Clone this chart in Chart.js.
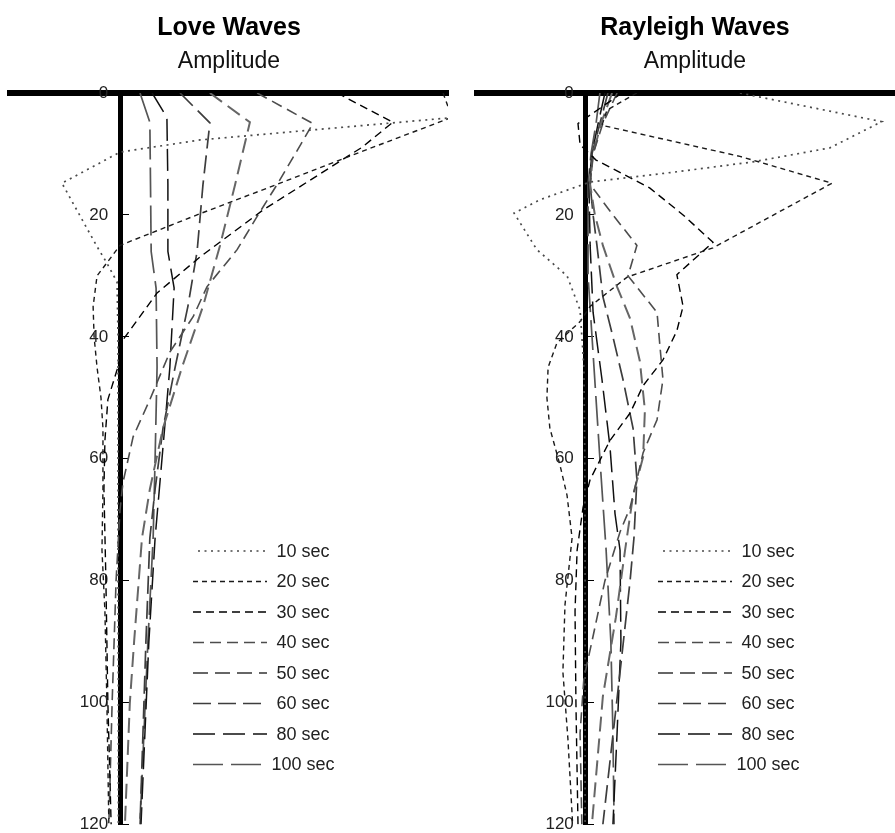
<!DOCTYPE html>
<html><head><meta charset="utf-8">
<script src="https://cdn.jsdelivr.net/npm/chart.js@4.4.1/dist/chart.umd.min.js"></script>
<style>
html,body{margin:0;padding:0;background:#fff;overflow:hidden;width:895px;height:833px;}
#wrap{position:relative;width:895px;height:833px;overflow:hidden;background:#fff;}
canvas{position:absolute;top:0;}
#c1{left:0;}
#c2{left:455px;}
</style></head><body>
<div id="wrap">
<canvas id="c1" width="455" height="833"></canvas>
<canvas id="c2" width="460" height="833"></canvas>
</div>
<script>
// ---------- DATA (amplitude normalised, depth in km) ----------
const periods = ['10 sec','20 sec','30 sec','40 sec','50 sec','60 sec','80 sec','100 sec'];
const depthTicks = [0,20,40,60,80,100,120];

// Love waves
const love10Depth = [0,4.1,6.1,7.7,9.7,14.8,25.2,27.9,31,40,60,80,100,120];
const love10Amp   = [1.2,1.0,0.579,0.244,0,-0.177,-0.07,-0.04,-0.009,-0.006,-0.006,-0.006,-0.005,-0.005];
const love20Depth = [0,4,9.7,14.8,19.8,25,30,35,40,45,50,55,65,75,85,100,120];
const love20Amp   = [0.985,1.012,0.732,0.488,0.244,0,-0.07,-0.082,-0.079,-0.07,-0.058,-0.052,-0.052,-0.055,-0.046,-0.04,-0.034];
const love30Depth = [0,4.8,8.9,19.2,26.9,32.8,40.5,45.4,50.3,57,65,80,100,120];
const love30Amp   = [0.662,0.832,0.738,0.436,0.244,0.113,0.009,-0.009,-0.037,-0.046,-0.049,-0.043,-0.037,-0.027];
const love40Depth = [0,5,10,15,20,25.7,31.8,36.7,42.5,50.3,56.4,63.9,68.4,80,100,120];
const love40Amp   = [0.418,0.588,0.534,0.479,0.421,0.357,0.265,0.223,0.152,0.091,0.04,0.009,0,-0.012,-0.024,-0.034];
const love50Depth = [0,4.8,15,25,35,45,55,65,73,90,100,120];
const love50Amp   = [0.274,0.396,0.351,0.305,0.253,0.189,0.131,0.091,0.067,0.043,0.03,0.015];
const love60Depth = [0,4.9,15,26,35,45,55,65,73,90,120];
const love60Amp   = [0.183,0.274,0.253,0.235,0.207,0.168,0.131,0.107,0.091,0.079,0.061];
const love80Depth = [0,4,15,26,32,45,60,73,90,120];
const love80Amp   = [0.098,0.143,0.146,0.146,0.165,0.152,0.128,0.107,0.088,0.064];
const love100Depth = [0,4.8,15,26,32,45,60,73,90,120];
const love100Amp   = [0.061,0.091,0.093,0.095,0.11,0.113,0.107,0.101,0.085,0.061];

// Rayleigh waves
const ray10Depth = [0,4.7,9,11.3,13,14.6,17.5,19.7,25.7,30,35.6,45,60,80,100,120];
const ray10Amp   = [0.521,1.0,0.825,0.565,0.295,0.015,-0.154,-0.242,-0.165,-0.063,-0.019,-0.006,-0.003,-0.002,-0.002,-0.002];
const ray20Depth = [0,2.8,5.3,10.4,14.8,25.4,30.2,35,37.5,41,45,50,55,61,66,73,84,95,106,120];
const ray20Amp   = [0.173,0.072,0.055,0.521,0.832,0.43,0.14,0.015,-0.019,-0.097,-0.127,-0.131,-0.121,-0.087,-0.063,-0.046,-0.07,-0.077,-0.06,-0.044];
const ray30Depth = [0,5,8.5,11,15.6,20,24.5,29.8,35,39,43.8,48,52.5,57,63.4,68,75,85,100,120];
const ray30Amp   = [0.123,-0.026,-0.019,0.035,0.217,0.329,0.43,0.308,0.329,0.308,0.261,0.194,0.15,0.082,0.015,-0.009,-0.029,-0.036,-0.033,-0.026];
const ray40Depth = [0,5,10,15,20,25,30,36,41.6,47,53.6,59,63.4,68,72,80,90,96,105,120];
const ray40Amp   = [0.106,0.058,0.025,0.015,0.092,0.173,0.143,0.241,0.251,0.261,0.241,0.194,0.173,0.15,0.116,0.065,0.021,-0.006,-0.019,-0.013];
const ray50Depth = [0,5,10,15,20,25,31.8,37,44,52,59.7,66,75,86,99,120];
const ray50Amp   = [0.089,0.052,0.025,0.015,0.031,0.058,0.106,0.15,0.183,0.2,0.194,0.16,0.133,0.102,0.058,0.021];
const ray60Depth = [0,5,10,15,20,25,33.4,40,47,55,63.4,73,80,95,120];
const ray60Amp   = [0.075,0.048,0.021,0.015,0.025,0.038,0.058,0.092,0.126,0.16,0.173,0.163,0.15,0.116,0.058];
const ray80Depth = [0,5,10,15,25,36,47,58,69,75,90,105,120];
const ray80Amp   = [0.065,0.042,0.021,0.011,0.015,0.025,0.055,0.082,0.099,0.116,0.119,0.106,0.092];
const ray100Depth = [0,5,10,15,30,45,60,75,90,105,120];
const ray100Amp   = [0.048,0.035,0.018,0.008,0.008,0.028,0.048,0.069,0.085,0.092,0.096];

// ---------- STYLES ----------
const styles = [
  {color:'#4a4a4a', width:1.7, dash:[2,4.5]},
  {color:'#1a1a1a', width:1.4, dash:[5,4]},
  {color:'#000', width:1.4, dash:[8,5]},
  {color:'#4d4d4d', width:1.6, dash:[11,6]},
  {color:'#666', width:2.0, dash:[15,7]},
  {color:'#3d3d3d', width:1.7, dash:[18,7]},
  {color:'#111', width:1.5, dash:[22,8]},
  {color:'#555', width:1.7, dash:[30,8]}
];
const FONT = '"Liberation Sans", Arial, Helvetica, sans-serif';
Chart.defaults.font.family = FONT;

function pts(depth, amp){ return depth.map((d,i)=>({x:amp[i], y:d})); }
function makeSets(list){
  return list.map((p,i)=>({
    label: periods[i], data: pts(p[0],p[1]), showLine:true, pointRadius:0,
    borderColor: styles[i].color, borderWidth: styles[i].width, borderDash: styles[i].dash,
    fill:false, tension:0
  }));
}

const depthLegend = {
  id:'depthLegend',
  afterDatasetsDraw(chart, args, o){
    const ctx = chart.ctx;
    chart.data.datasets.forEach((ds,i)=>{
      const y = o.y0 + i*o.dy;
      ctx.save();
      ctx.strokeStyle = ds.borderColor; ctx.lineWidth = ds.borderWidth;
      ctx.setLineDash(ds.borderDash);
      ctx.beginPath(); ctx.moveTo(i===0 ? o.x1+5 : o.x1, y); ctx.lineTo(o.x2, y); ctx.stroke();
      ctx.setLineDash([]);
      ctx.fillStyle = '#222'; ctx.font = '18px ' + FONT;
      ctx.textAlign = 'center'; ctx.textBaseline = 'middle';
      ctx.fillText(ds.label, o.textX, y+1);
      ctx.restore();
    });
  }
};

function makeChart(id, title, sets, xmin, xmax, pad, leg){
  return new Chart(document.getElementById(id), {
    type:'scatter',
    data:{datasets: sets},
    plugins:[depthLegend],
    options:{
      responsive:false, animation:false, events:[],
      layout:{padding:pad},
      plugins:{
        legend:{display:false}, tooltip:{enabled:false},
        title:{display:true, text:title, color:'#000', font:{size:25, weight:'bold'}, padding:{top:13, bottom:0}},
        subtitle:{display:true, text:'Amplitude', color:'#111', font:{size:23}, padding:{top:5, bottom:17.4}},
        depthLegend: leg
      },
      scales:{
        x:{type:'linear', position:'top', min:xmin, max:xmax,
           ticks:{display:false}, grid:{display:false, drawTicks:false},
           border:{display:true, width:6, color:'#000'}},
        y:{type:'linear', reverse:true, min:0, max:120, position:{x:0},
           afterBuildTicks:(s)=>{ s.ticks = depthTicks.map(v=>({value:v})); },
           ticks:{color:'#222', font:{size:17, lineHeight:1}, padding:0,
                  callback:(v)=> String(v) + '\u2002\u2009'},
           grid:{drawOnChartArea:false, drawTicks:true, tickLength:-11, color:'#000', lineWidth:1},
           border:{display:true, width:5, color:'#000'}}
      }
    }
  });
}

makeChart('c1','Love Waves', makeSets([
  [love10Depth,love10Amp],[love20Depth,love20Amp],[love30Depth,love30Amp],[love40Depth,love40Amp],
  [love50Depth,love50Amp],[love60Depth,love60Amp],[love80Depth,love80Amp],[love100Depth,love100Amp]
]), -0.3354, 1.0, {left:10, right:7, top:0, bottom:8}, {x1:193, x2:267, textX:303, y0:551, dy:30.5});

makeChart('c2','Rayleigh Waves', makeSets([
  [ray10Depth,ray10Amp],[ray20Depth,ray20Amp],[ray30Depth,ray30Amp],[ray40Depth,ray40Amp],
  [ray50Depth,ray50Amp],[ray60Depth,ray60Amp],[ray80Depth,ray80Amp],[ray100Depth,ray100Amp]
]), -0.3672, 1.1057, {left:22, right:2, top:0, bottom:8}, {x1:203, x2:277, textX:313, y0:551, dy:30.5});
</script>
</body></html>
